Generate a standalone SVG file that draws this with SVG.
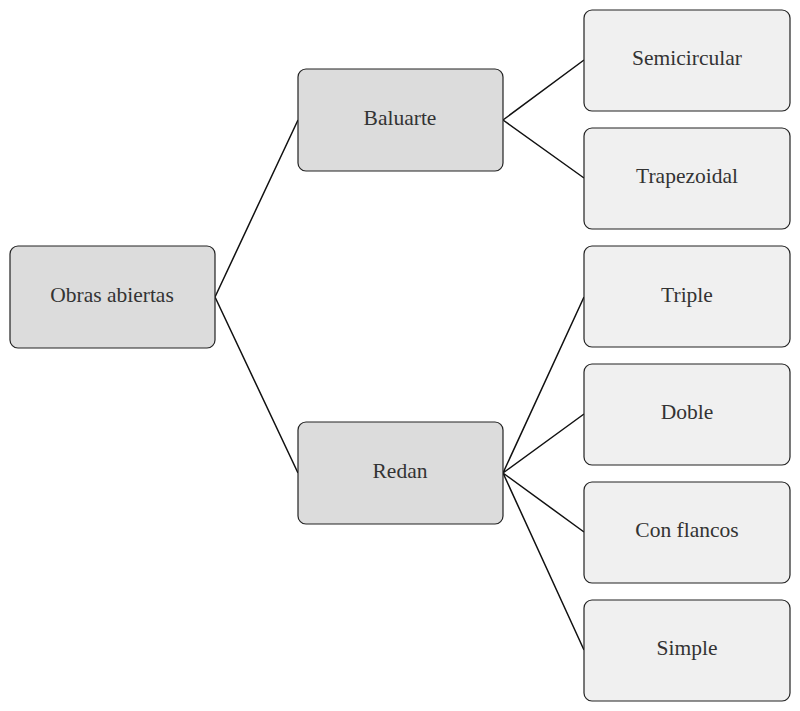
<svg xmlns="http://www.w3.org/2000/svg" width="800" height="711" viewBox="0 0 800 711">
<style>
.a{fill:#dcdcdc;stroke:#222;stroke-width:1.2}
.b{fill:#f0f0f0;stroke:#222;stroke-width:1.2}
text{font-family:"Liberation Serif",serif;font-size:21.5px;fill:#333;text-anchor:middle;dominant-baseline:central}
.c{stroke:#111;stroke-width:1.5;fill:none}
</style>
<rect width="800" height="711" fill="#fff"/>
<g id="connectors" class="c">
<path d="M215 297L298 120M215 297L298 473M503 120L584 60M503 120L584 178M503 473L584 297M503 473L584 414M503 473L584 532M503 473L584 650"/>
</g>
<g id="obras"><rect class="a" x="10" y="246" width="205" height="102" rx="8"/><text x="112" y="295">Obras abiertas</text></g>
<g id="baluarte"><rect class="a" x="298" y="69" width="205" height="102" rx="8"/><text x="400" y="118">Baluarte</text></g>
<g id="redan"><rect class="a" x="298" y="422" width="205" height="102" rx="8"/><text x="400" y="471">Redan</text></g>
<g id="semicircular"><rect class="b" x="584" y="10" width="206" height="101" rx="8"/><text x="687" y="58">Semicircular</text></g>
<g id="trapezoidal"><rect class="b" x="584" y="128" width="206" height="101" rx="8"/><text x="687" y="176">Trapezoidal</text></g>
<g id="triple"><rect class="b" x="584" y="246" width="206" height="101" rx="8"/><text x="687" y="295">Triple</text></g>
<g id="doble"><rect class="b" x="584" y="364" width="206" height="101" rx="8"/><text x="687" y="412">Doble</text></g>
<g id="conflancos"><rect class="b" x="584" y="482" width="206" height="101" rx="8"/><text x="687" y="530">Con flancos</text></g>
<g id="simple"><rect class="b" x="584" y="600" width="206" height="101" rx="8"/><text x="687" y="648">Simple</text></g>
</svg>
